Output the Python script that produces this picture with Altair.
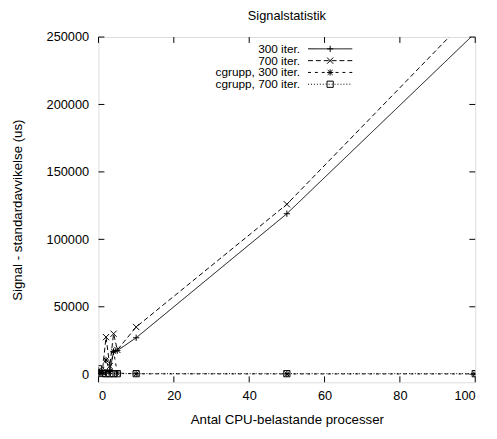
import altair as alt
import pandas as pd

# ---- data ----
x_vals = [0, 1, 2, 3, 4, 5, 10, 50, 100]
iter300 = [500, 800, 1500, 3000, 16500, 17500, 27000, 119000, 253000]
iter700 = [800, 1500, 27500, 6000, 30000, 18000, 35000, 126000, 270000]
cg300 = [3000, 1500, 10500, 2000, 17000, 800, 300, 200, 200]
cg700 = [4000, 500, 400, 400, 400, 400, 400, 400, 400]

series_names = ["300 iter.", "700 iter.", "cgrupp, 300 iter.", "cgrupp, 700 iter."]
series_values = [iter300, iter700, cg300, cg700]

x_ticks = [0, 20, 40, 60, 80, 100]
y_ticks = [0, 50000, 100000, 150000, 200000, 250000]

# styles
dashes = [[1, 0], [5, 3], [3, 4], [1, 2]]
shapes = [
    "M-1,0L1,0M0,-1L0,1",
    "M-1,-1L1,1M-1,1L1,-1",
    "M-1,0L1,0M0,-1L0,1M-0.8,-0.8L0.8,0.8M-0.8,0.8L0.8,-0.8",
    "square",
]

W, H = 383, 351
FONT = "Liberation Sans"

xscale = alt.Scale(domain=[0, 100], nice=False, zero=False)
yscale = alt.Scale(domain=[-6000, 250000], nice=False, zero=False)

common = dict(grid=False, domain=False, ticks=False, format="d",
              labelFont=FONT, titleFont=FONT, labelFontSize=13, titleFontSize=13.5,
              titleFontWeight="normal", labelColor="black", titleColor="black")
xaxis = alt.Axis(title="Antal CPU-belastande processer", values=x_ticks,
                 labelPadding=7, titlePadding=11, **common)
yaxis = alt.Axis(title="Signal - standardavvikelse (us)", values=y_ticks,
                 labelPadding=10, titlePadding=22, **common)


def X(field):
    return alt.X(field, scale=xscale, axis=xaxis)


def Y(field):
    return alt.Y(field, scale=yscale, axis=yaxis)


layers = []
for name, vals, dash, shp in zip(series_names, series_values, dashes, shapes):
    df = pd.DataFrame({"x": x_vals, "y": vals, "series": name})
    line = alt.Chart(df).mark_line(clip=True, color="black", strokeWidth=1,
                                   strokeDash=dash).encode(x=X("x:Q"), y=Y("y:Q"))
    pts = alt.Chart(df).mark_point(clip=True, color="black", filled=False,
                                   strokeWidth=1, size=40, shape=shp,
                                   opacity=1).encode(x=X("x:Q"), y=Y("y:Q"))
    layers += [line, pts]

# inward ticks (gnuplot style, mirrored)
xt = pd.DataFrame({"x": x_ticks})
yt = pd.DataFrame({"y": y_ticks})
for y0, y1 in [(H, H - 6), (0, 6)]:
    layers.append(alt.Chart(xt).mark_rule(color="black", strokeWidth=1).encode(
        x=X("x:Q"), y=alt.value(y0), y2=alt.value(y1)))
for x0, x1 in [(0, 6), (W - 6, W)]:
    layers.append(alt.Chart(yt).mark_rule(color="black", strokeWidth=1).encode(
        y=Y("y:Q"), x=alt.value(x0), x2=alt.value(x1)))

# key (legend) in the upper part of the plot
leg_text_x = 205
leg_line_x0, leg_line_x1 = 213, 258
leg_y0, leg_dy = 12, 12
for i, (name, dash, shp) in enumerate(zip(series_names, dashes, shapes)):
    ldf = pd.DataFrame({"label": [name]})
    yy = leg_y0 + i * leg_dy
    layers.append(alt.Chart(ldf).mark_text(align="right", baseline="middle",
                                           font=FONT, fontSize=12, color="black").encode(
        text="label:N", x=alt.value(leg_text_x), y=alt.value(yy)))
    layers.append(alt.Chart(ldf).mark_rule(color="black", strokeWidth=1,
                                           strokeDash=dash).encode(
        x=alt.value(leg_line_x0), x2=alt.value(leg_line_x1), y=alt.value(yy)))
    layers.append(alt.Chart(ldf).mark_point(color="black", filled=False, strokeWidth=1,
                                            size=40, shape=shp, opacity=1).encode(
        x=alt.value((leg_line_x0 + leg_line_x1) / 2), y=alt.value(yy)))

chart = alt.layer(*layers).properties(
    width=W, height=H,
    title=alt.Title("Signalstatistik", font=FONT, fontSize=13, fontWeight="normal",
                    color="black", offset=8),
    autosize=alt.AutoSizeParams(type="none"),
    padding={"left": 92, "top": 26, "right": 14, "bottom": 46},
).configure_view(stroke="black", strokeWidth=1).configure(background="white")

chart.save("out.html", embed_options={"renderer": "svg", "actions": False})
